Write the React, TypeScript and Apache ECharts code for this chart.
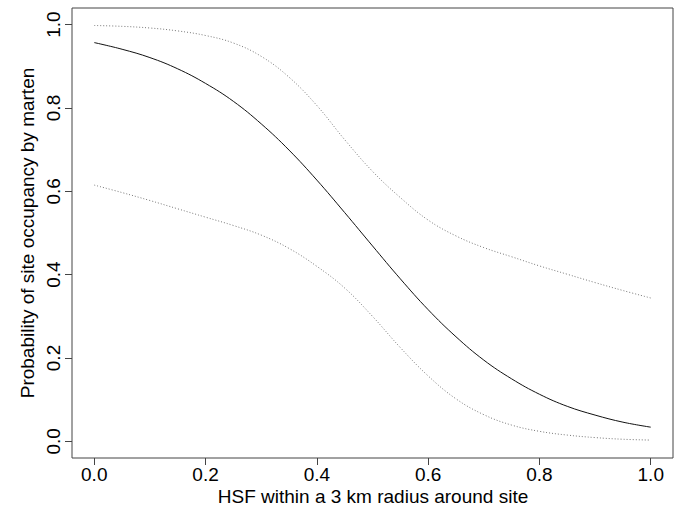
import React, { useEffect, useRef } from "react";
import * as echarts from "echarts";

const xValues = [0, 0.05, 0.1, 0.15, 0.2, 0.25, 0.3, 0.35, 0.4, 0.45, 0.5, 0.55, 0.6, 0.65, 0.7, 0.75, 0.8, 0.85, 0.9, 0.95, 1.0];
const fitValues = [0.957, 0.941, 0.921, 0.894, 0.859, 0.816, 0.762, 0.699, 0.627, 0.549, 0.469, 0.39, 0.316, 0.251, 0.195, 0.15, 0.113, 0.084, 0.063, 0.046, 0.034];
const upperValues = [0.998, 0.996, 0.992, 0.985, 0.974, 0.956, 0.924, 0.874, 0.806, 0.724, 0.648, 0.585, 0.531, 0.493, 0.465, 0.443, 0.421, 0.401, 0.381, 0.362, 0.344];
const lowerValues = [0.615, 0.597, 0.578, 0.558, 0.538, 0.518, 0.495, 0.463, 0.42, 0.368, 0.3, 0.225, 0.157, 0.102, 0.064, 0.039, 0.024, 0.015, 0.009, 0.005, 0.003];
const tickValues = [0, 0.2, 0.4, 0.6, 0.8, 1.0];
const xTitle = "HSF within a 3 km radius around site";
const yTitle = "Probability of site occupancy by marten";

const FONT = "Liberation Sans, Arial, Helvetica, sans-serif";

export default function App() {
  const ref = useRef<HTMLDivElement>(null);
  useEffect(() => {
    if (!ref.current) return;
    const chart = echarts.init(ref.current, null, { renderer: "svg" });
    const pairs = (ys: number[]) => xValues.map((x, i) => [x, ys[i]]);
    const axisCommon = {
      type: "value",
      min: -0.04,
      max: 1.04,
      splitLine: { show: false },
      axisLine: { show: false, onZero: false },
      axisTick: {
        show: true,
        inside: false,
        customValues: tickValues,
        length: 7,
        lineStyle: { color: "#444", width: 1 },
      },
    };
    const lineSeries = (ys: number[], color: string, type: any) => ({
      type: "line",
      data: pairs(ys),
      smooth: 0.4,
      showSymbol: false,
      lineStyle: { color, width: 1, type },
    });
    chart.setOption({
      animation: false,
      backgroundColor: "#ffffff",
      grid: {
        left: 72,
        right: 8,
        top: 8,
        bottom: 51,
        show: true,
        borderColor: "#444",
        borderWidth: 1,
        backgroundColor: "transparent",
      },
      xAxis: {
        ...axisCommon,
        axisLabel: {
          customValues: tickValues,
          formatter: (v: number) => v.toFixed(1),
          fontSize: 19,
          fontFamily: FONT,
          color: "#000",
          margin: 7,
        },
      },
      yAxis: {
        ...axisCommon,
        axisLabel: {
          customValues: tickValues,
          formatter: (v: number) => v.toFixed(1),
          fontSize: 19,
          fontFamily: FONT,
          color: "#000",
          rotate: 90,
          margin: 9,
        },
      },
      series: [
        lineSeries(fitValues, "#111", "solid"),
        lineSeries(upperValues, "#777", [1, 2]),
        lineSeries(lowerValues, "#777", [1, 2]),
      ],
      graphic: [
        {
          type: "text",
          x: 373,
          y: 496,
          style: {
            text: xTitle,
            fontSize: 19,
            fontFamily: FONT,
            fill: "#000",
            align: "center",
            verticalAlign: "middle",
          },
        },
        {
          type: "text",
          x: 27,
          y: 233,
          rotation: Math.PI / 2,
          style: {
            text: yTitle,
            fontSize: 19,
            fontFamily: FONT,
            fill: "#000",
            align: "center",
            verticalAlign: "middle",
          },
        },
      ],
    });
    return () => chart.dispose();
  }, []);
  return (
    <div
      ref={ref}
      style={{ position: "fixed", left: 0, top: 0, width: 681, height: 509 }}
    />
  );
}
